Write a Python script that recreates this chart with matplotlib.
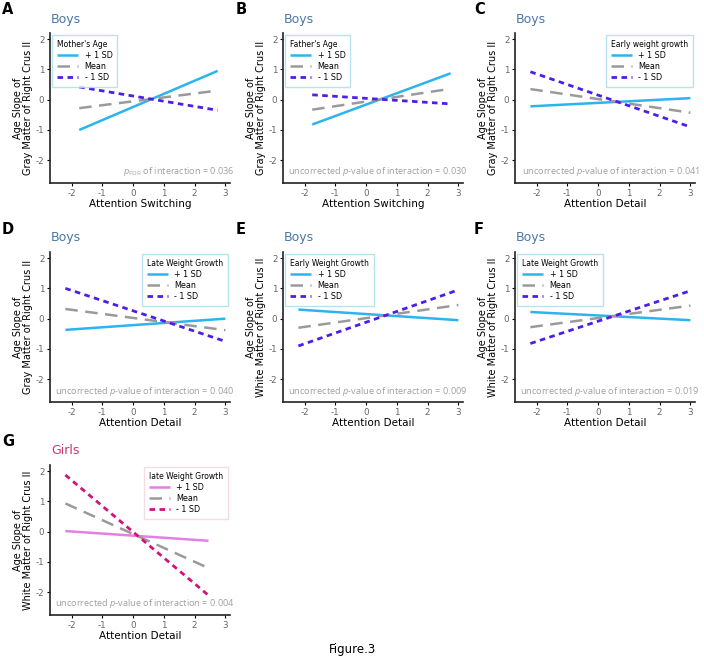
import numpy as np
import matplotlib
matplotlib.use('Agg')
import matplotlib.pyplot as plt

plt.rcParams['mathtext.fontset'] = 'custom'
plt.rcParams['mathtext.rm'] = 'Open Sans'
plt.rcParams['mathtext.it'] = 'Open Sans:italic'
plt.rcParams['axes.unicode_minus'] = False

# panel data: x range of the fitted lines and end values (start, end) for each level
panel_letters = ['A', 'B', 'C', 'D', 'E', 'F', 'G']
groups = ['Boys', 'Boys', 'Boys', 'Boys', 'Boys', 'Boys', 'Girls']
moderators = ["Mother's Age", "Father's Age", 'Early weight growth', 'Late Weight Growth',
              'Early Weight Growth', 'Late Weight Growth', 'late Weight Growth']
x_labels = ['Attention Switching', 'Attention Switching', 'Attention Detail', 'Attention Detail',
            'Attention Detail', 'Attention Detail', 'Attention Detail']
y_labels = ['Age Slope of\nGray Matter of Right Crus II'] * 4 + \
           ['Age Slope of\nWhite Matter of Right Crus II'] * 3
p_values = ['0.036', '0.030', '0.041', '0.040', '0.009', '0.019', '0.004']
legend_loc = ['upper left', 'upper left', 'upper right', 'upper right',
              'upper left', 'upper left', 'upper right']

x_ends = [(-1.75, 2.75), (-1.75, 2.75), (-2.2, 3.0), (-2.2, 3.0),
          (-2.2, 3.0), (-2.2, 3.0), (-2.2, 2.45)]
plus_sd = [(-1.0, 0.95), (-0.82, 0.87), (-0.22, 0.05), (-0.37, 0.0),
           (0.3, -0.05), (0.22, -0.05), (0.02, -0.3)]
mean_sd = [(-0.28, 0.3), (-0.33, 0.36), (0.35, -0.43), (0.32, -0.38),
           (-0.3, 0.45), (-0.28, 0.43), (0.93, -1.2)]
minus_sd = [(0.42, -0.35), (0.16, -0.14), (0.92, -0.9), (1.0, -0.75),
            (-0.9, 0.95), (-0.82, 0.92), (1.87, -2.1)]

# axes boxes in pixels: left, top, width, height
W, H = 704, 659
col_left = [50, 283, 515]
letter_x = [2, 236, 474]
row_top = [33, 252, 465]
ax_w, ax_h = 180, 150

colors = {
    'Boys': {'title': '#4a78a6', 'plus': '#2cb4ee', 'minus': '#4e1ee8', 'box': '#a6dcea'},
    'Girls': {'title': '#c4396e', 'plus': '#e47fe4', 'minus': '#d0127c', 'box': '#f4d4da'},
}
grey = '#9a9a9a'

fig = plt.figure(figsize=(W / 100, H / 100), dpi=100)

for i in range(7):
    r, c = divmod(i, 3)
    left = col_left[c]
    top = row_top[r]
    ax = fig.add_axes([left / W, 1 - (top + ax_h) / H, ax_w / W, ax_h / H])
    col = colors[groups[i]]
    x = np.array(x_ends[i])

    ax.plot(x, plus_sd[i], color=col['plus'], lw=1.8, label='+ 1 SD', solid_capstyle='butt')
    ax.plot(x, mean_sd[i], color=grey, lw=1.8, dashes=(5, 3), label='Mean')
    ax.plot(x, minus_sd[i], color=col['minus'], lw=2.0, dashes=(2, 1.6), label='- 1 SD')

    ax.set_xlim(-2.7, 3.15)
    ax.set_ylim(-2.75, 2.2)
    ax.set_xticks([-2, -1, 0, 1, 2, 3])
    ax.set_yticks([-2, -1, 0, 1, 2])
    for s in ['top', 'right']:
        ax.spines[s].set_visible(False)
    for s in ['left', 'bottom']:
        ax.spines[s].set_linewidth(1.2)
        ax.spines[s].set_color('#222222')
    ax.tick_params(labelsize=6.3, labelcolor='#666666', length=2, width=0.8, pad=2)
    ax.set_xlabel(x_labels[i], fontsize=7.5, labelpad=1)
    ax.set_ylabel(y_labels[i], fontsize=7, labelpad=2, linespacing=0.95)

    leg = ax.legend(loc=legend_loc[i], title=moderators[i], fontsize=5.8, title_fontsize=5.5,
                    frameon=True, fancybox=False, handlelength=2.6, labelspacing=0.25,
                    borderaxespad=0.3, handletextpad=0.8, borderpad=0.6)
    leg.get_frame().set_edgecolor(col['box'])
    leg.get_frame().set_linewidth(1.0)
    leg._legend_box.align = 'left'

    if i == 0:
        note = r'$\it{p}_{\rm FDR}$ of interaction = ' + p_values[i]
    else:
        note = r'uncorrected $\it{p}$-value of interaction = ' + p_values[i]
    ax.text(1.025, 0.03, note, transform=ax.transAxes, ha='right', va='bottom',
            fontsize=6.6, color='#a0a0a0', family='Open Sans')

    fig.text(letter_x[c] / W, 1 - (top - 23) / H, panel_letters[i],
             fontsize=10.5, fontweight='bold', va='center', ha='left')
    fig.text((left + 1) / W, 1 - (top - 14) / H, groups[i],
             fontsize=9, color=col['title'], va='center', ha='left')

fig.text(353 / W, 1 - 649 / H, 'Figure.3', fontsize=8.5, ha='center', va='center')

fig.savefig('out.png', dpi=100, facecolor='white')
